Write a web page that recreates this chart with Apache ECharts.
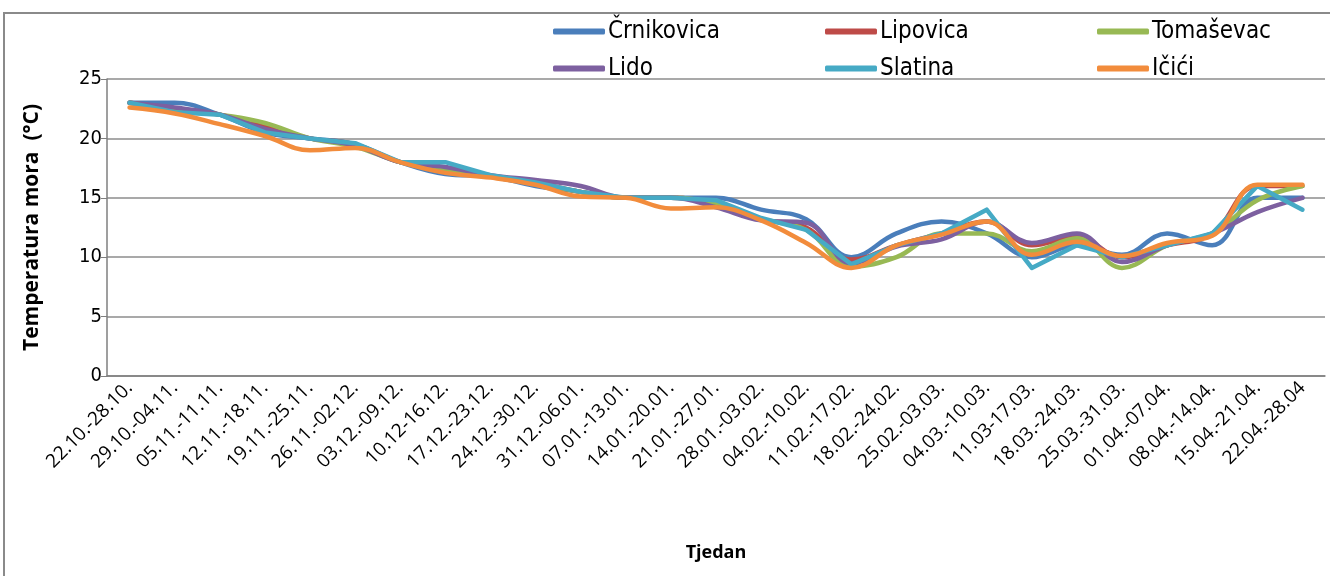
<!DOCTYPE html>
<html>
<head>
    <meta charset="utf-8">
    <title>Temperatura mora</title>
    <script src="https://cdn.jsdelivr.net/npm/echarts@6/dist/echarts.min.js"></script>
    <style>
        body { margin: 0; background: #fff; }
        #chart_div { width: 1330px; height: 576px; }
    </style>
</head>
<body>
    <div id="chart_div"></div>
    <script>
        // tjedni (x os)
        const weeks = [
            '22.10.-28.10.', '29.10.-04.11.', '05.11.-11.11.', '12.11.-18.11.', '19.11.-25.11.',
            '26.11.-02.12.', '03.12.-09.12.', '10.12-16.12.', '17.12.-23.12.', '24.12.-30.12.',
            '31.12.-06.01.', '07.01.-13.01.', '14.01.-20.01.', '21.01.-27.01.', '28.01.-03.02.',
            '04.02.-10.02.', '11.02.-17.02.', '18.02.-24.02.', '25.02.-03.03.', '04.03.-10.03.',
            '11.03-17.03.', '18.03.-24.03.', '25.03.-31.03.', '01.04.-07.04.', '08.04.-14.04.',
            '15.04.-21.04.', '22.04.-28.04'
        ];

        const crnikovica = [23, 23, 22, 20.5, 20, 19.5, 18, 17, 16.8, 16, 15.5, 15, 15, 15, 14, 13.2, 10, 12, 13, 12, 10, 11, 10.2, 12, 11, 15, 15];
        const lipovica   = [23, 22.5, 22, 21, 20, 19.5, 18, 17.5, 16.8, 16.3, 15.5, 15, 15, 14.5, 13.2, 12.5, 9.8, 11, 12, 13, 11, 11.7, 10, 11, 12, 16, 16];
        const tomasevac  = [23, 22.5, 22, 21.3, 20, 19.3, 18, 17.3, 16.8, 16.2, 15.5, 15, 15, 14.5, 13.2, 12.3, 9.2, 10, 12, 12, 10.5, 11.6, 9.1, 11, 12, 14.8, 16];
        const lido       = [23, 22.6, 22, 20.8, 20, 19.4, 18, 17.6, 16.9, 16.5, 16, 15, 15, 14.2, 13.1, 12.9, 9.5, 10.9, 11.5, 13, 11.2, 12, 9.6, 11, 12, 13.8, 15];
        const slatina    = [23, 22.2, 22, 20.5, 20, 19.6, 18, 18, 16.9, 16.3, 15.5, 15, 15, 14.8, 13.3, 12.3, 9.4, 11, 12, 14, 9.1, 11, 10, 11, 12, 16, 14];
        const icici      = [22.6, 22.1, 21.2, 20.2, 19, 19.2, 18, 17.1, 16.7, 16.1, 15.1, 15, 14.1, 14.2, 13.1, 11.2, 9.1, 11, 11.9, 13, 10.2, 11.3, 10.1, 11.2, 11.8, 16.1, 16.1];

        const narrow = '"Liberation Sans Narrow", "DejaVu Sans Condensed", sans-serif';
        const labelFont = '"Open Sans", Lato, sans-serif';

        function line(name, data, color, smooth) {
            return {
                name: name,
                type: 'line',
                data: data,
                smooth: smooth,
                showSymbol: false,
                symbol: 'none',
                lineStyle: { width: 4.5, color: color, cap: 'round', join: 'round' },
                itemStyle: { color: color }
            };
        }

        const myChart = echarts.init(document.getElementById('chart_div'));

        const option = {
            animation: false,
            graphic: [{
                type: 'rect',
                shape: { x: 4, y: 13, width: 1340, height: 580 },
                style: { fill: 'none', stroke: '#8a8a8a', lineWidth: 2 }
            }],
            legend: {
                left: 553,
                top: 14,
                width: 830,
                padding: 0,
                icon: 'roundRect',
                itemWidth: 52,
                itemHeight: 6,
                itemGap: 2,
                data: ['Črnikovica', 'Lipovica', 'Tomaševac', 'Lido', 'Slatina', 'Ičići'],
                textStyle: {
                    fontFamily: narrow,
                    fontSize: 24,
                    color: '#000',
                    width: 215,
                    lineHeight: 35,
                    padding: [0, 0, 0, -2]
                }
            },
            grid: {
                left: 107,
                right: 5,
                top: 79,
                bottom: 200
            },
            xAxis: {
                type: 'category',
                data: weeks,
                boundaryGap: true,
                name: 'Tjedan',
                nameLocation: 'middle',
                nameGap: 168,
                nameTextStyle: { fontFamily: labelFont, fontWeight: 'bold', fontSize: 18, color: '#000' },
                axisLine: { lineStyle: { color: '#7f7f7f', width: 1.5 } },
                axisTick: { show: false },
                axisLabel: {
                    rotate: 45,
                    interval: 0,
                    margin: 9,
                    fontFamily: labelFont,
                    fontSize: 19,
                    color: '#000'
                }
            },
            yAxis: {
                type: 'value',
                min: 0,
                max: 25,
                interval: 5,
                name: 'Temperatura mora  (°C)',
                nameLocation: 'middle',
                nameGap: 64,
                nameTextStyle: { fontFamily: labelFont, fontWeight: 'bold', fontSize: 21, color: '#000' },
                axisLine: { show: true, lineStyle: { color: '#7f7f7f', width: 1.5 } },
                axisTick: { show: true, length: 6, lineStyle: { color: '#7f7f7f' } },
                splitLine: { lineStyle: { color: '#8c8c8c', width: 1.5 } },
                axisLabel: {
                    margin: 5,
                    fontFamily: narrow,
                    fontSize: 20,
                    color: '#000'
                }
            },
            series: [
                line('Črnikovica', crnikovica, '#4A7EBB', 0.4),
                line('Lipovica', lipovica, '#BE4B48', 0.4),
                line('Tomaševac', tomasevac, '#98B954', 0.4),
                line('Lido', lido, '#7D60A0', 0.4),
                line('Slatina', slatina, '#46AAC5', false),
                line('Ičići', icici, '#F28C3C', 0.4)
            ]
        };

        myChart.setOption(option);
    </script>
</body>
</html>
